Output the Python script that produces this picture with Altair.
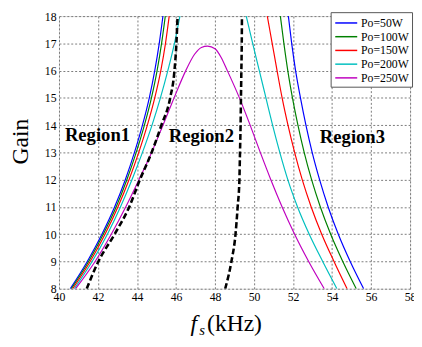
import altair as alt
import pandas as pd

# ---- data ----
gain = [8, 9, 10, 11, 12, 13, 14, 15, 16, 17, 18]

series = ["Po=50W", "Po=100W", "Po=150W", "Po=200W", "Po=250W"]
colors = ["#0000FF", "#008000", "#FF0000", "#00BFBF", "#BF00BF"]

# left (rising) branches, frequency at each gain value
f_left_50 = [40.58, 41.45, 42.20, 42.85, 43.40, 43.87, 44.28, 44.63, 44.91, 45.14, 45.33]
f_left_100 = [40.63, 41.52, 42.27, 42.93, 43.48, 43.96, 44.38, 44.74, 45.03, 45.26, 45.45]
f_left_150 = [40.70, 41.60, 42.36, 43.02, 43.59, 44.09, 44.53, 44.91, 45.22, 45.46, 45.65]
f_left_200 = [40.78, 41.70, 42.48, 43.15, 43.74, 44.28, 44.77, 45.20, 45.58, 45.92, 46.20]

# right (falling) branches, frequency at each gain value
f_right_50 = [55.62, 54.93, 54.32, 53.80, 53.36, 52.98, 52.66, 52.38, 52.13, 51.93, 51.76]
f_right_100 = [55.24, 54.55, 53.93, 53.40, 52.95, 52.57, 52.25, 51.97, 51.73, 51.53, 51.35]
f_right_150 = [54.77, 54.10, 53.47, 52.93, 52.47, 52.08, 51.74, 51.44, 51.18, 50.93, 50.68]
f_right_200 = [54.25, 53.52, 52.83, 52.23, 51.73, 51.32, 50.95, 50.61, 50.27, 49.93, 49.60]

# Po=250W: a single closed-top curve
f_250 = [40.85, 41.85, 42.68, 43.42, 44.10, 44.75, 45.33, 45.90, 46.50, 46.95, 47.30,
         47.62, 48.00, 48.30, 48.63, 49.25, 49.80, 50.32, 50.86, 51.44, 52.08, 52.80, 53.60]
g_250 = [8, 9, 10, 11, 12, 13, 14, 15, 16, 16.6, 16.85,
         16.9, 16.8, 16.5, 16, 15, 14, 13, 12, 11, 10, 9, 8]

# region boundaries (black dashed)
f_bound_left = [41.42, 42.02, 42.85, 43.60, 44.15, 44.75, 45.25, 45.70, 45.92, 46.02, 46.08]
f_bound_right = [48.52, 48.84, 49.05, 49.16, 49.25, 49.28, 49.31, 49.33, 49.35, 49.37, 49.38]

regions = ["Region1", "Region2", "Region3"]
x_ticks = list(range(40, 59, 2))
y_ticks = list(range(8, 19, 1))

# ---- build tables ----
rows = []
branches = {
    "Po=50W": (f_left_50, f_right_50),
    "Po=100W": (f_left_100, f_right_100),
    "Po=150W": (f_left_150, f_right_150),
    "Po=200W": (f_left_200, f_right_200),
}
for name, (fl, fr) in branches.items():
    for f, g in zip(fl, gain):
        rows.append({"series": name, "seg": name + "L", "f": f, "g": g})
    for f, g in zip(fr, gain):
        rows.append({"series": name, "seg": name + "R", "f": f, "g": g})
for f, g in zip(f_250, g_250):
    rows.append({"series": "Po=250W", "seg": "Po=250W", "f": f, "g": g})
curves = pd.DataFrame(rows)

brows = []
for f, g in zip(f_bound_left, gain):
    brows.append({"seg": "L", "f": f, "g": g})
for f, g in zip(f_bound_right, gain):
    brows.append({"seg": "R", "f": f, "g": g})
bounds = pd.DataFrame(brows)

SERIF = "Liberation Serif"

xs = alt.Scale(domain=[40, 58], nice=False, zero=False)
ys = alt.Scale(domain=[8, 18], nice=False, zero=False)

common_axis = dict(grid=True, gridDash=[2, 2], gridColor="#7a7a7a", gridOpacity=1,
                   ticks=False, domain=False, labelFont=SERIF, labelFontSize=12,
                   labelColor="#000", labelPadding=3, labelFlush=False,
                   labelOverlap=False)
x_axis = alt.Axis(values=x_ticks, **common_axis)
y_axis = alt.Axis(values=y_ticks, **common_axis)

X = alt.X("f:Q", scale=xs, axis=x_axis, title=None)
Y = alt.Y("g:Q", scale=ys, axis=y_axis, title=None)

lines = alt.Chart(curves).mark_line(strokeWidth=1.2, clip=True,
                                    interpolate="monotone").encode(
    x=X, y=Y,
    color=alt.Color("series:N", scale=alt.Scale(domain=series, range=colors),
                    legend=alt.Legend(title=None, orient="none", legendX=277, legendY=-4,
                                      symbolType="M-0.9,0H2.3", symbolSize=196,
                                      symbolStrokeWidth=1.5, symbolFillColor="transparent",
                                      labelFont=SERIF, labelFontSize=12, labelColor="#000",
                                      fillColor="#ffffff", strokeColor="#555",
                                      padding=3, rowPadding=0, labelOffset=12)),
    detail="seg:N",
)

dashed = alt.Chart(bounds).mark_line(color="black", strokeWidth=2.6,
                                     strokeDash=[6, 3], clip=True,
                                     interpolate="monotone").encode(
    x=X, y=Y,
    detail="seg:N",
)

def label(txt, px, py, size, weight="normal", style="normal", angle=0, align="left"):
    return alt.Chart(pd.DataFrame({"t": [txt]})).mark_text(
        font=SERIF, fontSize=size, fontWeight=weight, fontStyle=style,
        align=align, baseline="alphabetic", color="black", angle=angle
    ).encode(text="t:N", x=alt.value(px), y=alt.value(py))

texts = [
    label(regions[0], 6, 127, 19, weight="bold"),
    label(regions[1], 112, 128, 19, weight="bold"),
    label(regions[2], 266, 129, 19, weight="bold"),
    label("f", 134, 321, 24, style="italic"),
    label("s", 143, 325, 15, style="italic"),
    label("(kHz)", 151, 321, 24),
    label("Gain", -32, 128, 24, angle=270, align="center"),
]

chart = alt.layer(lines, dashed, *texts).properties(
    width=358, height=278,
    autosize=alt.AutoSizeParams(type="none"),
    padding={"left": 52, "top": 5, "right": 4, "bottom": 48},
).configure_view(stroke="#666", strokeWidth=1).configure(background="white")

chart.save("out.html", embed_options={"renderer": "svg", "actions": False})
